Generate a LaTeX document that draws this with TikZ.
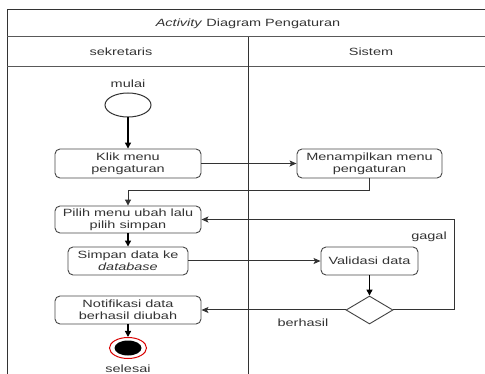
\documentclass[tikz,border=0pt]{standalone}
\usepackage{fontspec}
\setmainfont[FakeStretch=1.38]{Liberation Sans}
\usetikzlibrary{arrows.meta,shapes.geometric}

\tikzset{
  act/.style={draw=black!72, line width=0.9pt, rounded corners=5pt, fill=white,
    align=center, inner sep=0pt, font=\fontsize{10.5}{12}\selectfont, text=black!80},
  lbl/.style={font=\fontsize{10.5}{12}\selectfont, text=black!80, inner sep=0pt},
  flow/.style={draw=black!80, line width=1pt, -{Stealth[length=7pt,width=6pt,inset=1.5pt]}},
  down/.style={draw=black, line width=1.3pt, -{Triangle[length=6pt,width=6pt]}},
  thinflow/.style={draw=black!80, line width=1pt, -{Triangle[length=6pt,width=6pt]}},
  lane/.style={draw=black!80, line width=1pt},
}

\begin{document}
\begin{tikzpicture}[x=1pt,y=-1pt]
  \useasboundingbox (0,0) rectangle (485,374);
  \clip (0,0) rectangle (485,374);

  % swimlane frame
  \draw[lane] (7,400) -- (7,10) -- (500,10);
  \draw[lane, draw=black!65] (7,37) -- (500,37);
  \draw[lane, draw=black!65] (7,67) -- (500,67);
  \draw[lane] (248,37) -- (248,400);

  \node[lbl] (title) at (248,24) {\textit{Activity} Diagram Pengaturan};
  \node[lbl] (laneA) at (121,52) {sekretaris};
  \node[lbl] (laneB) at (371,52) {Sistem};

  % start
  \node[lbl] (mulaiT) at (128,84) {mulai};
  \node[draw=black!80, line width=1pt, ellipse, minimum width=46pt, minimum height=24pt, inner sep=0pt] (start) at (128,105) {};

  % activities
  \node[act, minimum width=146pt, minimum height=29pt] (klik) at (128,163.5) {Klik menu\\pengaturan};
  \node[act, minimum width=145pt, minimum height=29pt] (tampil) at (369.5,163.5) {Menampilkan menu\\pengaturan};
  \node[act, minimum width=146pt, minimum height=27pt] (pilih) at (128,219.5) {Pilih menu ubah lalu\\pilih simpan};
  \node[act, minimum width=120pt, minimum height=28pt] (simpan) at (128,261) {Simpan data ke\\\textit{database}};
  \node[act, minimum width=97pt, minimum height=28pt] (valid) at (369.5,261) {Validasi data};
  \node[draw=black!75, line width=0.9pt, diamond, minimum width=47pt, minimum height=28pt, inner sep=0pt, fill=white] (cek) at (369.5,310) {};
  \node[act, minimum width=146pt, minimum height=28pt] (notif) at (128,310) {Notifikasi data\\berhasil diubah};

  % end
  \node[draw=red!85!black, line width=1pt, ellipse, minimum width=37pt, minimum height=21pt, inner sep=0pt, fill=white] (akhir) at (128,348) {};
  \fill[black] (akhir.center) ellipse [x radius=13.5pt, y radius=7.5pt];
  \node[lbl] (selesaiT) at (128,369) {selesai};

  % flows
  \coordinate (t1) at (369.5,191);
  \coordinate (t2) at (128,191);
  \coordinate (g1) at (454,310);
  \coordinate (g2) at (454,219.5);

  \draw[down] (start) -- (klik);
  \draw[flow] (klik) -- (tampil);
  \draw[thinflow] (tampil.south) -- (t1) -- (t2) -- (pilih.north);
  \draw[down] (pilih) -- (simpan);
  \draw[flow] (simpan) -- (valid);
  \draw[down] (valid) -- (cek);
  \draw[flow] (cek.east) -- (g1) -- (g2) -- (pilih.east);
  \draw[flow] (cek.west) -- (notif.east);
  \draw[down] (notif) -- (akhir);

  \node[lbl] (gagalT) at (429,237) {gagal};
  \node[lbl] (berhasilT) at (303,323) {berhasil};
\end{tikzpicture}
\end{document}
